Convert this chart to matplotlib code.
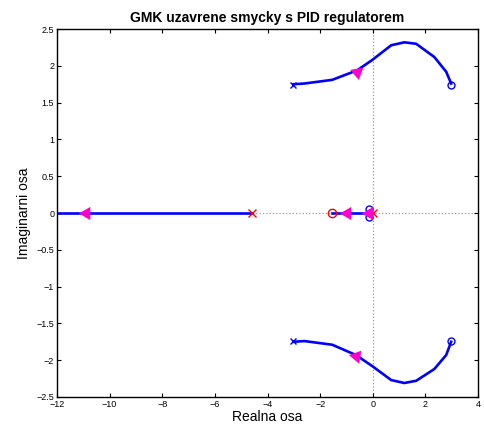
"""Root locus of the closed loop with PID controller."""
import matplotlib
matplotlib.use('Agg')
import matplotlib.pyplot as plt
import numpy as np

# upper complex branch (pole -> zero)
UP_RE = [-3.02, -2.60, -1.54, -0.59, -0.02, 0.70, 1.20, 1.65, 2.34, 2.79, 2.98]
UP_IM = [1.75, 1.76, 1.81, 1.94, 2.08, 2.28, 2.32, 2.30, 2.12, 1.92, 1.76]
# lower complex branch
LO_RE = [-3.02, -2.60, -1.54, -0.64, -0.02, 0.70, 1.20, 1.65, 2.34, 2.79, 2.98]
LO_IM = [-1.75, -1.74, -1.79, -1.93, -2.08, -2.27, -2.31, -2.28, -2.12, -1.93, -1.75]
# real-axis branches
REAL_FAR = [-4.58, -13.0]
REAL_NEAR = [-1.53, -0.16]

# open loop (red) and closed loop (blue) singularities
RED_POLES = [(-4.58, 0.0), (0.0, 0.0)]
RED_ZEROS = [(-1.53, 0.0)]
BLUE_POLES = [(-3.02, 1.74), (-3.02, -1.74)]
BLUE_ZEROS = [(2.98, 1.74), (2.98, -1.74), (-0.16, 0.06), (-0.16, -0.06)]

# direction arrows: (re, im, angle)
ARROWS = [(-0.59, 1.92, 190), (-0.64, -1.94, 80), (-10.9, 0.0, 90),
          (-0.96, 0.0, 90), (-0.16, 0.0, 90)]


def main():
    plt.rcParams['font.family'] = ['Liberation Sans', 'DejaVu Sans']
    fig = plt.figure(figsize=(4.85, 4.34), dpi=100)
    ax = fig.add_axes([0.1175, 0.0853, 0.8681, 0.8477])

    ax.axhline(0, color='#999999', ls=':', lw=0.9, zorder=1)
    ax.axvline(0, color='#999999', ls=':', lw=0.9, zorder=1)

    kw = dict(color='#0000ff', lw=1.9, zorder=2)
    ax.plot(UP_RE, UP_IM, **kw)
    ax.plot(LO_RE, LO_IM, **kw)
    ax.plot(REAL_FAR, [0, 0], **kw)
    ax.plot(REAL_NEAR, [0, 0], **kw)

    for re, im in RED_POLES:
        ax.plot(re, im, 'x', color='#ff0000', ms=5.5, mew=1.0, zorder=4)
    for re, im in RED_ZEROS:
        ax.plot(re, im, 'o', mfc='none', mec='#ff0000', ms=6, mew=1.0, zorder=4)
    for re, im in BLUE_POLES:
        ax.plot(re, im, 'x', color='#0000ff', ms=4, mew=1.0, zorder=4)
    for re, im in BLUE_ZEROS:
        ax.plot(re, im, 'o', mfc='none', mec='#0000ff', ms=5, mew=1.0, zorder=4)

    for re, im, ang in ARROWS:
        ax.plot(re, im, marker=(3, 0, ang), color='#ff00cc', ms=11,
                mew=0, zorder=5)

    ax.set_xlim(-12, 4)
    ax.set_ylim(-2.5, 2.5)
    ax.set_xticks(np.arange(-12, 5, 2))
    ax.set_yticks(np.arange(-2.5, 2.51, 0.5))
    ax.set_yticklabels(['\u22122.5', '\u22122', '\u22121.5', '\u22121', '\u22120.5',
                        '0', '0.5', '1', '1.5', '2', '2.5'])
    ax.tick_params(direction='in', top=True, right=True, labelsize=6.5,
                   length=3, width=0.8, pad=2)
    for sp in ax.spines.values():
        sp.set_linewidth(1.0)

    ax.set_xlabel('Realna osa', fontsize=10, labelpad=1)
    ax.set_ylabel('Imaginarni osa', fontsize=10, labelpad=4)
    ax.set_title('GMK uzavrene smycky s PID regulatorem', fontsize=10,
                 fontweight='bold', pad=5)

    fig.savefig('out.png', dpi=100)


if __name__ == '__main__':
    main()
